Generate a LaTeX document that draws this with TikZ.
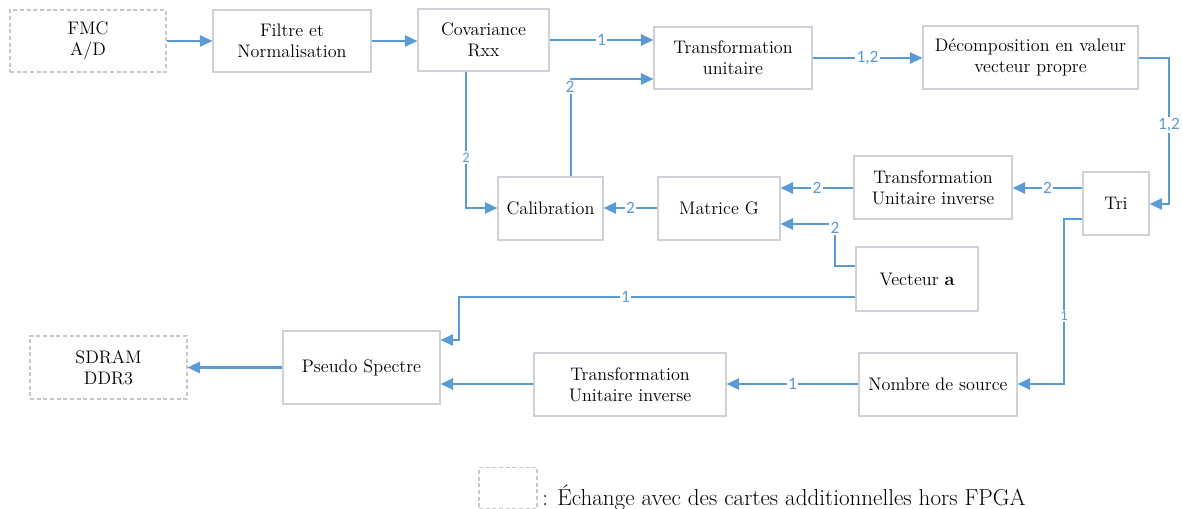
\documentclass[tikz,border=0pt]{standalone}
\usepackage{fontspec}
\newfontfamily\lblfont{Carlito}
\usetikzlibrary{arrows.meta}
\definecolor{lineblue}{HTML}{5B9BD5}
\definecolor{boxgray}{HTML}{CDD2D9}
\definecolor{dashgray}{HTML}{C8C8C8}
\begin{document}
\begin{tikzpicture}[x=0.75pt,y=-0.75pt,
  box/.style={draw=boxgray, line width=0.8pt, align=center, inner sep=0pt,
    font=\fontsize{13.6}{15.5}\selectfont},
  extbox/.style={box, draw=dashgray, dash pattern=on 3pt off 2pt},
  conn/.style={draw=lineblue, line width=1.6pt, -{Triangle[length=9.5pt,width=8.5pt]}},
  lbl/.style={fill=white, inner sep=1pt, text=lineblue, font=\lblfont\fontsize{13}{13}\selectfont},
  slbl/.style={lbl, font=\lblfont\fontsize{11}{11}\selectfont}]
\useasboundingbox (0,0) rectangle (1182,509);

% nodes
\node[extbox, minimum width=117pt,   minimum height=46.5pt]  (fmc)  at (88,41)      {FMC\\A/D};
\node[box,    minimum width=118.5pt, minimum height=46.5pt]  (fil)  at (292,41)     {Filtre et\\Normalisation};
\node[box,    minimum width=98.25pt, minimum height=46.5pt]  (cov)  at (483.5,40)   {Covariance\\Rxx};
\node[box,    minimum width=118.5pt, minimum height=46.5pt]  (tu)   at (733,58)     {Transformation\\unitaire};
\node[box,    minimum width=161.25pt,minimum height=47.25pt] (dec)  at (1030.5,57.5){D\'ecomposition en valeur\\vecteur propre};
\node[box,    minimum width=49.5pt,  minimum height=47.25pt] (tri)  at (1116,203.5) {Tri};
\node[box,    minimum width=118.5pt, minimum height=47.25pt] (tuia) at (933,187.5)  {Transformation\\Unitaire inverse};
\node[box,    minimum width=91.5pt,  minimum height=47.25pt] (mg)   at (719,208.5)  {Matrice G};
\node[box,    minimum width=78.75pt, minimum height=47.25pt] (cal)  at (550.5,208.5){Calibration};
\node[box,    minimum width=91.5pt,  minimum height=48pt]    (vec)  at (917,279)    {Vecteur \textbf{a}};
\node[box,    minimum width=118.5pt, minimum height=47.25pt] (ns)   at (938,384.5)  {Nombre de source};
\node[box,    minimum width=144pt,   minimum height=47.25pt] (tuib) at (630,384.5)  {Transformation\\Unitaire inverse};
\node[box,    minimum width=117.75pt,minimum height=54.75pt] (ps)   at (361.5,367.5){Pseudo Spectre};
\node[extbox, minimum width=117.75pt,minimum height=47.25pt] (sd)   at (108.5,367.5){SDRAM\\DDR3};

% legend
\node[extbox, minimum width=43.5pt, minimum height=31pt] (leg) at (508,488) {};
\node[anchor=base west, inner sep=0pt, font=\fontsize{17.3}{19}\selectfont] (legtxt) at (542,505)
  {: \'Echange avec des cartes additionnelles hors FPGA};

% helper coordinates
\coordinate (y40) at (0,40);
\coordinate (y58) at (0,58);
\coordinate (y79) at (0,79);
\coordinate (y188) at (0,188);
\coordinate (y204) at (0,204);
\coordinate (y208) at (0,208);
\coordinate (y219) at (0,219);
\coordinate (y224) at (0,224);
\coordinate (y266) at (0,266);
\coordinate (y297) at (0,297);
\coordinate (y340) at (0,340);
\coordinate (y384) at (0,384);
\coordinate (x459) at (459,0);
\coordinate (x466) at (466,0);
\coordinate (x571) at (571,0);
\coordinate (x835) at (835,0);
\coordinate (x1064) at (1064,0);
\coordinate (x1169) at (1169,0);

% connectors
\draw[conn] (fmc.east) -- (fil.west);
\draw[conn] (fil.east) -- (cov.west |- fil.east);
\draw[conn] (cov.east |- y40) -- node[lbl] {1} (tu.west |- y40);
\draw[conn] (x571 |- cal.north) -- (x571 |- y79) -- (tu.west |- y79);
\node[lbl] (l2a) at (570,87) {2};
\draw[conn] (x466 |- cov.south) -- node[slbl, pos=0.63] {2} (x466 |- y208) -- (cal.west |- y208);
\draw[conn] (tu.east |- y58) -- node[lbl] {1,2} (dec.west |- y58);
\draw[conn] (dec.east |- y58) -- (x1169 |- y58) -- node[lbl, pos=0.46] {1,2} (x1169 |- y204) -- (tri.east |- y204);
\draw[conn] (tri.west |- y188) -- node[lbl] {2} (tuia.east |- y188);
\draw[conn] (tuia.west |- y188) -- node[lbl] {2} (mg.east |- y188);
\draw[conn] (vec.west |- y266) -- (x835 |- y266) -- (x835 |- y224) -- (mg.east |- y224);
\node[lbl] (l2b) at (835,228) {2};
\draw[conn] (mg.west |- y208) -- node[lbl] {2} (cal.east |- y208);
\draw[conn] (vec.west |- y297) -- node[lbl, pos=0.58] {1} (x459 |- y297) -- (x459 |- y340) -- (ps.east |- y340);
\draw[conn] (tri.west |- y219) -- (x1064 |- y219) -- node[slbl, pos=0.587] {1} (x1064 |- y384) -- (ns.east |- y384);
\draw[conn] (ns.west |- y384) -- node[lbl] {1} (tuib.east |- y384);
\draw[conn] (tuib.west |- y384) -- (ps.east |- y384);
\draw[conn] (ps.west) -- (sd.east);
\end{tikzpicture}
\end{document}
